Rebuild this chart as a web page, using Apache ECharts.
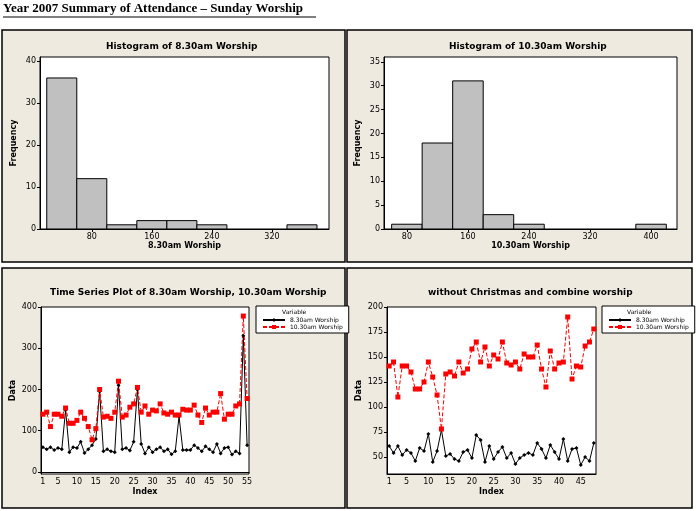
<!DOCTYPE html>
<html><head><meta charset="utf-8">
<script src="https://cdn.jsdelivr.net/npm/echarts@6/dist/echarts.min.js"></script>
<style>body{margin:0;background:#fff}#c{width:696px;height:511px}</style>
</head><body><div id="c"></div>
<script>
// histogram bins [from, to, count]
var bins830 = [[20,60,36],[60,100,12],[100,140,1],[140,180,2],[180,220,2],[220,260,1],[340,380,1]];
var bins1030 = [[60,100,1],[100,140,18],[140,180,31],[180,220,3],[220,260,1],[380,420,1]];
// weekly attendance, whole year
var ts830 = [60,55,60,53,58,55,150,48,60,58,73,46,55,65,80,195,50,55,50,48,210,55,58,52,73,200,68,45,60,48,55,60,50,55,43,50,135,53,53,53,65,58,50,62,55,48,68,45,58,60,42,50,45,330,65];
var ts1030 = [140,145,110,140,140,135,155,118,118,125,145,130,110,78,105,200,133,135,130,145,220,133,138,157,165,205,145,160,140,150,148,165,143,140,145,138,138,152,150,150,162,138,120,155,138,145,145,190,128,140,140,160,165,378,178];
// without Christmas, combined worship
var nc830 = [61,54,61,52,57,54,46,59,56,73,45,56,77,51,53,48,46,55,57,49,72,67,45,61,48,55,60,49,54,43,49,52,54,52,64,58,49,62,55,48,68,46,58,59,42,50,46,64];
var nc1030 = [141,145,110,141,141,135,118,118,125,145,130,112,78,133,135,131,145,134,138,158,165,145,160,141,152,148,165,144,142,145,138,153,150,150,162,138,120,156,138,144,145,190,128,141,140,161,165,178];

function idx(n){var a=[];for(var i=1;i<=n;i++)a.push(i);return a;}
var F = 'DejaVu Sans';
var chart = echarts.init(document.getElementById('c'));

function histRender(params, api){
  var a = api.coord([api.value(0), api.value(2)]);
  var b = api.coord([api.value(1), 0]);
  return {type:'rect', shape:{x:a[0], y:a[1], width:b[0]-a[0], height:b[1]-a[1]},
    style:{fill:'#c0c0c0', stroke:'#000', lineWidth:1}};
}
function tsLabel(i){return i===0 || (i+1)%5===0;}
var axLab = {fontSize:8, color:'#000', fontFamily:F};
var axLine = {show:true, lineStyle:{color:'#000'}};
var nameStyle = {fontSize:8, fontWeight:'bold', color:'#000', fontFamily:F};

function xHist(min,max,ticks,name,gi){
  return {type:'value', gridIndex:gi, min:min, max:max, name:name, nameLocation:'middle', nameGap:13, nameTextStyle:nameStyle,
    axisLine:axLine, splitLine:{show:false},
    axisTick:{customValues:ticks, length:3, lineStyle:{color:'#000'}},
    axisLabel:Object.assign({customValues:ticks, margin:4}, axLab)};
}
function yAx(gi,min,max,ticks,name){
  return {type:'value', gridIndex:gi, min:min, max:max, name:name, nameLocation:'middle', nameGap:name==='Data'?24:22,
    nameTextStyle:nameStyle, axisLine:axLine, splitLine:{show:false},
    axisTick:{show:true, customValues:ticks, length:3, lineStyle:{color:'#000'}},
    axisLabel:Object.assign({customValues:ticks, margin:4}, axLab)};
}
function xTs(gi,n){
  return {type:'category', gridIndex:gi, data:idx(n), name:'Index', nameLocation:'middle', nameGap:14, nameTextStyle:nameStyle,
    axisLine:axLine, axisTick:{interval:tsLabel, alignWithLabel:true, length:3, lineStyle:{color:'#000'}},
    axisLabel:Object.assign({interval:tsLabel, margin:4}, axLab)};
}
function legend(left){
  return {orient:'vertical', left:left, top:306, itemWidth:22, itemHeight:5, itemGap:1, padding:[11,6,3,6],
    backgroundColor:'#fff', borderColor:'#000', borderWidth:1,
    textStyle:{fontSize:6, fontFamily:F, color:'#000'}, data:['8.30am Worship','10.30am Worship']};
}
function panelTitle(text,x,y){
  return {type:'text', left:x, top:y, style:{text:text, fontSize:9, fontWeight:'bold', fontFamily:F, fill:'#000'}};
}
function lineSeries(name, xi, data, red){
  return {name:name, type:'line', xAxisIndex:xi, yAxisIndex:xi, data:data, showAllSymbol:true,
    symbol:red?'rect':'diamond', symbolSize:red?5:4,
    itemStyle:{color:red?'#f00':'#000'}, lineStyle:{color:red?'#f00':'#000', width:1, type:red?[4,2]:'solid'}};
}
var panel = {fill:'#eeeae0', stroke:'#000', lineWidth:1.5};

chart.setOption({
  animation:false,
  graphic:[
    {type:'text', left:3, top:2, style:{text:'Year 2007 Summary of Attendance \u2013 Sunday Worship', fontSize:13, fontWeight:'bold', fontFamily:'Liberation Serif', fill:'#000'}},
    {type:'line', shape:{x1:3, y1:17, x2:316, y2:17}, style:{stroke:'#000', lineWidth:1}},
    {type:'rect', z:-10, shape:{x:2, y:30, width:343, height:232}, style:panel},
    {type:'rect', z:-10, shape:{x:347, y:30, width:345, height:232}, style:panel},
    {type:'rect', z:-10, shape:{x:2, y:268, width:343, height:240}, style:panel},
    {type:'rect', z:-10, shape:{x:347, y:268, width:345, height:240}, style:panel},
    {type:'rect', z:-5, shape:{x:40, y:57, width:289, height:172}, style:{fill:'#fff'}},
    {type:'rect', z:-5, shape:{x:384, y:57, width:293, height:172}, style:{fill:'#fff'}},
    {type:'rect', z:-5, shape:{x:41, y:307, width:208, height:167}, style:{fill:'#fff'}},
    {type:'rect', z:-5, shape:{x:387, y:307, width:209, height:167}, style:{fill:'#fff'}},
    panelTitle('Histogram of 8.30am Worship', 106, 42),
    panelTitle('Histogram of 10.30am Worship', 449, 42),
    panelTitle('Time Series Plot of 8.30am Worship, 10.30am Worship', 50, 288),
    panelTitle('without Christmas and combine worship', 428, 288),
    {type:'text', left:282, top:309, z:20, style:{text:'Variable', fontSize:6, fontFamily:F, fill:'#000'}},
    {type:'text', left:627, top:309, z:20, style:{text:'Variable', fontSize:6, fontFamily:F, fill:'#000'}}
  ],
  legend:[legend(256), legend(602)],
  grid:[
    {left:40, top:57, width:289, height:172, show:true, borderColor:'#000', borderWidth:1},
    {left:384, top:57, width:293, height:172, show:true, borderColor:'#000', borderWidth:1},
    {left:41, top:307, width:208, height:167, show:true, borderColor:'#000', borderWidth:1},
    {left:387, top:307, width:209, height:167, show:true, borderColor:'#000', borderWidth:1}
  ],
  xAxis:[
    xHist(11,396,[80,160,240,320],'8.30am Worship',0),
    xHist(50,434,[80,160,240,320,400],'10.30am Worship',1),
    xTs(2,55), xTs(3,48)
  ],
  yAxis:[
    yAx(0,0,41,[0,10,20,30,40],'Frequency'),
    yAx(1,0,36,[0,5,10,15,20,25,30,35],'Frequency'),
    yAx(2,-5,400,[0,100,200,300,400],'Data'),
    yAx(3,33,200,[50,75,100,125,150,175,200],'Data')
  ],
  series:[
    {type:'custom', xAxisIndex:0, yAxisIndex:0, renderItem:histRender, data:bins830, encode:{x:[0,1], y:2}},
    {type:'custom', xAxisIndex:1, yAxisIndex:1, renderItem:histRender, data:bins1030, encode:{x:[0,1], y:2}},
    lineSeries('8.30am Worship', 2, ts830, false),
    lineSeries('10.30am Worship', 2, ts1030, true),
    lineSeries('8.30am Worship', 3, nc830, false),
    lineSeries('10.30am Worship', 3, nc1030, true)
  ]
});
</script></body></html>
